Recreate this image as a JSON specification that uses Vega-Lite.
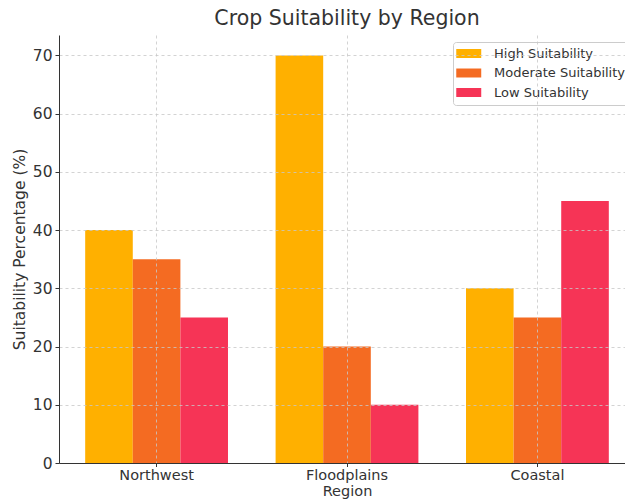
{
  "$schema": "https://vega.github.io/schema/vega-lite/v6.json",
  "width": 566,
  "height": 428,
  "autosize": {"type": "none"},
  "padding": {"left": 59, "top": 35, "right": 0, "bottom": 41},
  "background": "white",
  "title": {
    "text": "Crop Suitability by Region",
    "font": "DejaVu Sans",
    "fontSize": 20.5,
    "fontWeight": "normal",
    "color": "#333333",
    "anchor": "middle",
    "dx": 5,
    "offset": 6
  },
  "data": {
    "values": [
      {"region": "Northwest", "level": "High Suitability", "pct": 40},
      {"region": "Northwest", "level": "Moderate Suitability", "pct": 35},
      {"region": "Northwest", "level": "Low Suitability", "pct": 25},
      {"region": "Floodplains", "level": "High Suitability", "pct": 70},
      {"region": "Floodplains", "level": "Moderate Suitability", "pct": 20},
      {"region": "Floodplains", "level": "Low Suitability", "pct": 10},
      {"region": "Coastal", "level": "High Suitability", "pct": 30},
      {"region": "Coastal", "level": "Moderate Suitability", "pct": 25},
      {"region": "Coastal", "level": "Low Suitability", "pct": 45}
    ]
  },
  "mark": {"type": "bar"},
  "encoding": {
    "x": {
      "field": "region",
      "type": "nominal",
      "sort": ["Northwest", "Floodplains", "Coastal"],
      "title": "Region",
      "scale": {"range": [0, 576], "paddingInner": 0.25, "paddingOuter": 0.1375},
      "axis": {
        "labelAngle": 0,
        "bandPosition": 0.5,
        "grid": true,
        "gridDash": [3, 3],
        "gridColor": "#c8c8c8",
        "gridWidth": 0.8,
        "tickBand": "center",
        "tickSize": 3.5,
        "tickColor": "#333333",
        "domainColor": "#333333",
        "labelFont": "DejaVu Sans",
        "labelFontSize": 14.5,
        "labelColor": "#333333",
        "labelPadding": 2,
        "titleFont": "DejaVu Sans",
        "titleFontSize": 14.5,
        "titleFontWeight": "normal",
        "titleColor": "#333333",
        "titlePadding": 2,
        "zindex": 1
      }
    },
    "xOffset": {
      "field": "level",
      "type": "nominal",
      "sort": ["High Suitability", "Moderate Suitability", "Low Suitability"],
      "scale": {"paddingInner": 0, "paddingOuter": 0}
    },
    "y": {
      "field": "pct",
      "type": "quantitative",
      "title": "Suitability Percentage (%)",
      "scale": {"domain": [0, 73.5], "nice": false},
      "axis": {
        "values": [0, 10, 20, 30, 40, 50, 60, 70],
        "grid": true,
        "gridDash": [3, 3],
        "gridColor": "#c8c8c8",
        "gridWidth": 0.8,
        "tickSize": 4,
        "tickColor": "#333333",
        "domainColor": "#333333",
        "labelFont": "DejaVu Sans",
        "labelFontSize": 15.5,
        "labelColor": "#333333",
        "labelPadding": 3,
        "titleFont": "DejaVu Sans",
        "titleFontSize": 15.5,
        "titleFontWeight": "normal",
        "titleColor": "#333333",
        "titlePadding": 5,
        "zindex": 1
      }
    },
    "color": {
      "field": "level",
      "type": "nominal",
      "sort": ["High Suitability", "Moderate Suitability", "Low Suitability"],
      "scale": {
        "domain": ["High Suitability", "Moderate Suitability", "Low Suitability"],
        "range": ["#FFB000", "#F46B22", "#F63456"]
      },
      "legend": {
        "title": null,
        "orient": "none",
        "legendX": 394,
        "legendY": 7,
        "padding": 5,
        "fillColor": "white",
        "strokeColor": "#cccccc",
        "cornerRadius": 3,
        "symbolType": "M-1.32,-0.72H2.68V0.72H-1.32Z",
        "symbolSize": 156,
        "symbolStrokeWidth": 0,
        "symbolOpacity": 1,
        "labelFont": "DejaVu Sans",
        "labelFontSize": 13,
        "labelColor": "#333333",
        "labelOffset": 23,
        "rowPadding": 5.5
      }
    }
  },
  "config": {
    "view": {"stroke": null}
  }
}
